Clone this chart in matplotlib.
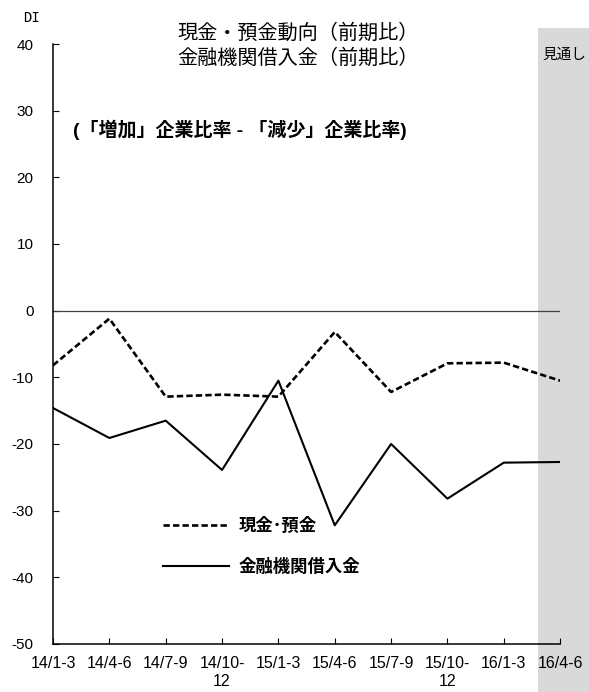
import matplotlib
matplotlib.use("Agg")
import matplotlib.pyplot as plt
from matplotlib.patches import Rectangle

plt.rcParams['font.family'] = ['Liberation Sans', 'Noto Sans CJK JP', 'DejaVu Sans']

# データ
quarters = ['14/1-3', '14/4-6', '14/7-9', '14/10-\n12', '15/1-3',
            '15/4-6', '15/7-9', '15/10-\n12', '16/1-3', '16/4-6']
cash_deposit = [-8.2, -1.2, -12.9, -12.6, -12.9, -3.2, -12.2, -7.9, -7.8, -10.5]
bank_loans = [-14.6, -19.1, -16.5, -23.9, -10.5, -32.2, -20.0, -28.2, -22.8, -22.7]
yticks = [40, 30, 20, 10, 0, -10, -20, -30, -40, -50]


def main():
    fig = plt.figure(figsize=(5.89, 6.92), dpi=100)
    ax = fig.add_axes([0.09, 0.0694, 0.861, 0.867])
    ax.set_facecolor('none')

    # 見通し部分の網掛け
    fig.patches.append(Rectangle((538 / 589, 0), 1 - 538 / 589, 1 - 28 / 692,
                                 transform=fig.transFigure, facecolor='#d9d9d9',
                                 edgecolor='none', zorder=-1))

    x = list(range(len(quarters)))
    ax.axhline(0, xmin=0, xmax=1, color='#404040', linewidth=0.9)
    ax.plot(x, cash_deposit, color='black', linestyle=(0, (2.4, 1.2)),
            linewidth=1.9, label='現金･預金')
    ax.plot(x, bank_loans, color='black', linestyle='-', linewidth=1.5,
            label='金融機関借入金')

    ax.set_xlim(0, 9)
    ax.set_ylim(-50, 40)
    ax.set_xticks(x)
    ax.set_xticklabels(quarters, fontsize=11.5)
    ax.set_yticks(yticks)
    ax.set_yticklabels([str(v) for v in yticks], fontsize=11)
    ax.tick_params(direction='in', length=4.5, width=0.8, pad=9)
    ax.tick_params(axis='y', pad=14)
    for s in ['top', 'right']:
        ax.spines[s].set_visible(False)
    for s in ['left', 'bottom']:
        ax.spines[s].set_linewidth(1.1)

    # タイトルなど
    fig.text(298 / 589, 1 - 33 / 692, '現金・預金動向（前期比）', ha='center', va='center',
             fontsize=14.5, family='Noto Sans CJK JP')
    fig.text(298 / 589, 1 - 58 / 692, '金融機関借入金（前期比）', ha='center', va='center',
             fontsize=14.5, family='Noto Sans CJK JP')
    fig.text(23 / 589, 1 - 18 / 692, 'DI', ha='left', va='center',
             fontsize=10, family='DejaVu Sans Mono')
    fig.text(542 / 589, 1 - 55 / 692, '見通し', ha='left', va='center',
             fontsize=10.5, family='Noto Sans CJK JP')
    fig.text(73 / 589, 1 - 130 / 692, '(「増加」企業比率 - 「減少」企業比率)', ha='left',
             va='center', fontsize=13.7, fontweight='bold')

    ax.legend(loc='upper left', bbox_to_anchor=(0.187, 0.238), frameon=False,
              handlelength=3.75, labelspacing=1.4, handletextpad=0.6,
              prop={'weight': 'bold', 'size': 12.5})

    fig.savefig('out.png', dpi=100)


if __name__ == "__main__":
    main()
